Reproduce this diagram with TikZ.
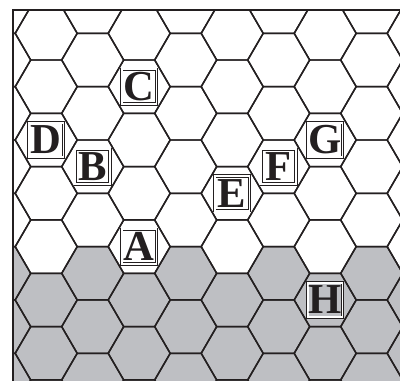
\documentclass[tikz,border=0pt]{standalone}
\usepackage{fontspec}
\setmainfont{Liberation Serif}
\usepackage{tikz}
\definecolor{hexgray}{RGB}{190,191,195}
\definecolor{inkline}{RGB}{35,31,32}
\newcommand{\CELLFONT}{\fontsize{32}{32}\selectfont\bfseries}

\begin{document}
\begin{tikzpicture}[x=0.75pt,y=-0.75pt,
    hexline/.style={draw=inkline,line width=1.1pt,line join=miter},
    frameline/.style={draw=inkline,line width=1.9pt},
    cellmark/.style={draw=inkline,double,double distance=1.4pt,line width=0.5pt,
        minimum size=26pt,inner sep=0pt,text=inkline}]
    \useasboundingbox (0,0) rectangle (400,381);

    \coordinate (corner) at (13,10);

    \begin{scope}
    \clip (13,10) rectangle (400,381);
    % shaded cells
    \foreach \i in {-1,...,8} {
        \foreach \j in {-1,...,7} {
            \pgfmathsetmacro{\cx}{46.2+46.5*\i}
            \pgfmathsetmacro{\cy}{33.33+53.33*\j+26.67*mod(abs(\i),2)}
            \ifdim\cy pt>250pt
                \fill[hexgray] (\cx,\cy) +(31,0) -- +(15.5,26.67) -- +(-15.5,26.67)
                    -- +(-31,0) -- +(-15.5,-26.67) -- +(15.5,-26.67) -- cycle;
            \fi
        }
    }
    % hex outlines
    \foreach \i in {-1,...,8} {
        \foreach \j in {-1,...,7} {
            \pgfmathsetmacro{\cx}{46.2+46.5*\i}
            \pgfmathsetmacro{\cy}{33.33+53.33*\j+26.67*mod(abs(\i),2)}
            \path[hexline] (\cx,\cy) +(31,0) -- +(15.5,26.67) -- +(-15.5,26.67)
                -- +(-31,0) -- +(-15.5,-26.67) -- +(15.5,-26.67) -- cycle;
        }
    }
    \end{scope}

    \draw[frameline] (13,381) -- (corner) -- (400,10);

    \node[cellmark] (A) at (139.2,246.67) {\CELLFONT A};
    \node[cellmark] (B) at (92.7,166.67) {\CELLFONT B};
    \node[cellmark] (C) at (139.2,86.67) {\CELLFONT C};
    \node[cellmark] (D) at (46.2,140) {\CELLFONT D};
    \node[cellmark] (E) at (232.2,193.33) {\CELLFONT E};
    \node[cellmark] (F) at (278.7,166.67) {\CELLFONT F};
    \node[cellmark] (G) at (325.2,140) {\CELLFONT G};
    \node[cellmark] (H) at (325.2,300) {\CELLFONT H};
\end{tikzpicture}
\end{document}
